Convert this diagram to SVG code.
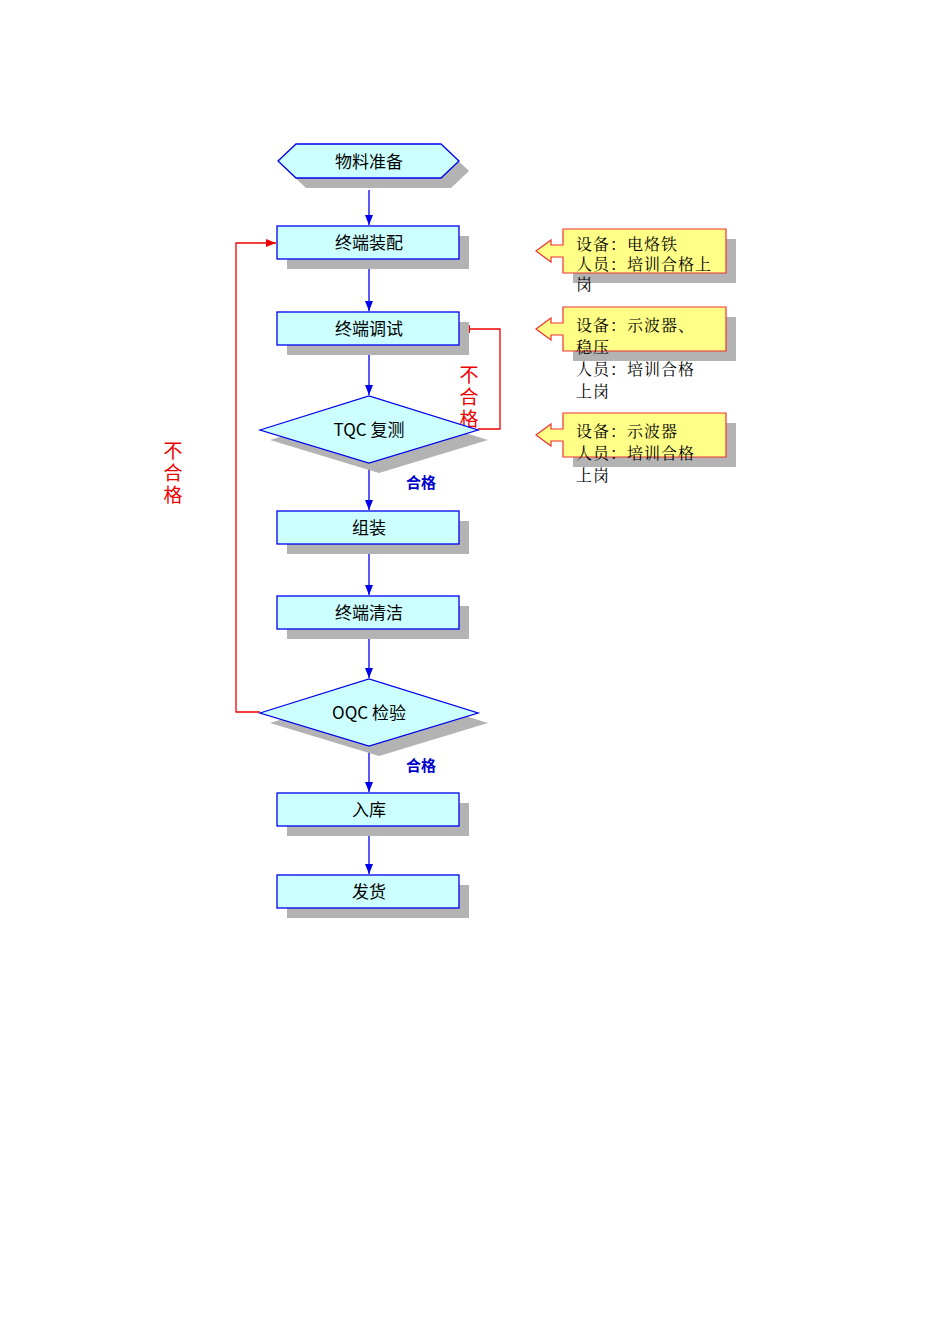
<svg xmlns="http://www.w3.org/2000/svg" width="950" height="1344" viewBox="0 0 950 1344">
<style>
.sh{fill:#b3b3b3}
.n{fill:#ccffff;stroke:#0000ee;stroke-width:1.3}
.t{font-family:"Noto Sans CJK SC","Liberation Sans",sans-serif;font-size:17px;text-anchor:middle;fill:#000}
.c{fill:#ffff88;stroke:#ee3333;stroke-width:1.2}
.ct{font-family:"Noto Serif CJK SC","Noto Sans CJK SC",serif;font-size:16px;fill:#000;letter-spacing:1px}
.b{stroke:#0000ee;stroke-width:1.3;fill:none;marker-end:url(#ab)}
.r{stroke:#ee0000;stroke-width:1.3;fill:none;marker-end:url(#ar)}
.ng{font-family:"Noto Sans CJK SC",sans-serif;font-size:19px;fill:#ee0000;writing-mode:vertical-rl;letter-spacing:3px}
.ok{font-family:"Noto Sans CJK SC",sans-serif;font-size:15px;font-weight:bold;fill:#0000cc;text-anchor:middle}
</style>
<defs>
<marker id="ab" markerWidth="10" markerHeight="8" refX="10" refY="4" orient="auto" markerUnits="userSpaceOnUse"><path d="M0,0L10,4L0,8z" fill="#0000ee"/></marker>
<marker id="ar" markerWidth="10" markerHeight="8" refX="10" refY="4" orient="auto" markerUnits="userSpaceOnUse"><path d="M0,0L10,4L0,8z" fill="#ee0000"/></marker>
</defs>
<g id="connectors">
<path class="b" d="M369,190V225"/>
<path class="b" d="M369,260V311"/>
<path class="b" d="M369,346V395"/>
<path class="b" d="M369,464V510"/>
<path class="b" d="M369,545V595"/>
<path class="b" d="M369,630V678"/>
<path class="b" d="M369,747V792"/>
<path class="b" d="M369,827V874"/>
<path class="r" d="M260,712H236V243H276"/>
<path class="r" d="M478,429H500V329H460"/>
<text class="ng" x="173" y="441">不合格</text>
<text class="ng" x="469" y="365">不合格</text>
<text class="ok" x="421" y="488">合格</text>
<text class="ok" x="421" y="771">合格</text>
</g>
<g id="n1"><polygon class="sh" points="306,154 451,154 469,171 451,188 306,188 288,171"/><polygon class="n" points="296,144 441,144 459,161 441,178 296,178 278,161"/><text class="t" x="369" y="168">物料准备</text></g>
<g id="n2"><rect class="sh" x="287" y="236" width="182" height="33"/><rect class="n" x="277" y="226" width="182" height="33"/><text class="t" x="369" y="249">终端装配</text></g>
<g id="n3"><rect class="sh" x="287" y="322" width="182" height="33"/><rect class="n" x="277" y="312" width="182" height="33"/><text class="t" x="369" y="335">终端调试</text></g>
<g id="n4"><polygon class="sh" points="270,440 379,406 488,440 379,473"/><polygon class="n" points="260,430 369,396 478,430 369,463"/><text class="t" x="369" y="436">TQC 复测</text></g>
<g id="n5"><rect class="sh" x="287" y="521" width="182" height="33"/><rect class="n" x="277" y="511" width="182" height="33"/><text class="t" x="369" y="534">组装</text></g>
<g id="n6"><rect class="sh" x="287" y="606" width="182" height="33"/><rect class="n" x="277" y="596" width="182" height="33"/><text class="t" x="369" y="619">终端清洁</text></g>
<g id="n7"><polygon class="sh" points="270,723 379,689 488,723 379,756"/><polygon class="n" points="260,713 369,679 478,713 369,746"/><text class="t" x="369" y="719">OQC 检验</text></g>
<g id="n8"><rect class="sh" x="287" y="803" width="182" height="33"/><rect class="n" x="277" y="793" width="182" height="33"/><text class="t" x="369" y="816">入库</text></g>
<g id="n9"><rect class="sh" x="287" y="885" width="182" height="33"/><rect class="n" x="277" y="875" width="182" height="33"/><text class="t" x="369" y="898">发货</text></g>
<g id="c1"><rect class="sh" x="573" y="239" width="163" height="44"/><path class="c" d="M563,229H726V273H563V257H551V262L536,251L551,240V245H563Z"/><text class="ct" x="576" y="250">设备：电烙铁</text><text class="ct" x="576" y="270">人员：培训合格上</text><text class="ct" x="576" y="290">岗</text></g>
<g id="c2"><rect class="sh" x="573" y="317" width="163" height="44"/><path class="c" d="M563,307H726V351H563V335H551V340L536,329L551,318V323H563Z"/><text class="ct" x="576" y="331">设备：示波器、</text><text class="ct" x="576" y="353">稳压</text><text class="ct" x="576" y="375">人员：培训合格</text><text class="ct" x="576" y="397">上岗</text></g>
<g id="c3"><rect class="sh" x="573" y="423" width="163" height="44"/><path class="c" d="M563,413H726V457H563V441H551V446L536,435L551,424V429H563Z"/><text class="ct" x="576" y="437">设备：示波器</text><text class="ct" x="576" y="459">人员：培训合格</text><text class="ct" x="576" y="481">上岗</text></g>
</svg>
